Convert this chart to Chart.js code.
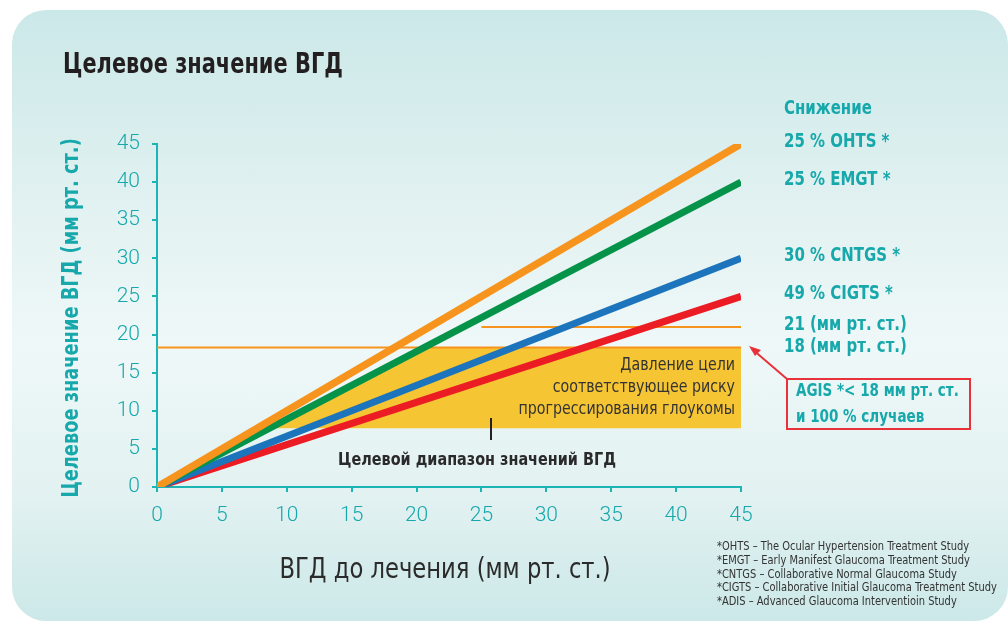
<!DOCTYPE html>
<html>
<head>
<meta charset="utf-8">
<script src="https://cdn.jsdelivr.net/npm/chart.js@4.4.1/dist/chart.umd.min.js"></script>
<style>
  html, body { margin: 0; padding: 0; background: #ffffff; }
  #wrap { position: relative; width: 1008px; height: 621px; overflow: hidden; }
  #card {
    position: absolute; left: 12px; top: 10px; width: 996px; height: 611px;
    border-radius: 34px;
    background: linear-gradient(to bottom, #cbe8e8 0%, #e4f2f2 35%, #eff8f8 55%, #e2f1f1 80%, #cce8e8 100%);
  }
  #chart { position: absolute; left: 0; top: 0; }
</style>
</head>
<body>
<div id="wrap">
  <div id="card"></div>
  <canvas id="chart" width="1008" height="621"></canvas>
</div>
<script>
    // ВГД до лечения (x) -> целевое ВГД (y)
    var preIop = [0, 45];
    var ohts = [0, 45];
    var emgt = [0, 40];
    var cntgs = [0, 30];
    var cigts = [0, 25];

    // горизонтальные уровни (мм рт. ст.)
    var level18 = 18.3;
    var level21 = 21;
    var level21From = 25;
    var bandLow = 7.7;

    var studyLabels = ['25 % OHTS *', '25 % EMGT *', '30 % CNTGS *', '49 % CIGTS *'];
    var levelLabels = ['21 (мм рт. ст.)', '18 (мм рт. ст.)'];
    var boxText = ['Давление цели', 'соответствующее риску', 'прогрессирования глоукомы'];
    var agisText = ['AGIS *< 18 мм рт. ст.', 'и 100 % случаев'];
    var footnotes = [
        '*OHTS – The Ocular Hypertension Treatment Study',
        '*EMGT – Early Manifest Glaucoma Treatment Study',
        '*CNTGS – Collaborative Normal Glaucoma Study',
        '*CIGTS – Collaborative Initial Glaucoma Treatment Study',
        '*ADIS – Advanced Glaucoma Interventioin Study'
    ];

    var COND = "'DejaVu Sans Condensed', 'DejaVu Sans', sans-serif";
    var TEAL = '#17a8ab';
    var AXIS = '#1db4b4';

    function pts(ys) {
        return preIop.map(function(x, i) { return { x: x, y: ys[i] }; });
    }

    // жёлтая зона: справа от линии EMGT, между bandLow и level18
    var emgtSlope = emgt[1] / preIop[1];
    var bandPts = [
        { x: bandLow / emgtSlope, y: bandLow },
        { x: level18 / emgtSlope, y: level18 },
        { x: preIop[1], y: level18 }
    ];

    // узкий текст: шрифт сжимается по горизонтали
    function txt(ctx, s, x, y, font, color, align, sx, rot) {
        ctx.save();
        ctx.translate(x, y);
        if (rot) ctx.rotate(rot);
        ctx.scale(sx, 1);
        ctx.font = font;
        ctx.fillStyle = color;
        ctx.textAlign = align;
        ctx.textBaseline = 'middle';
        ctx.fillText(s, 0, 0);
        ctx.restore();
    }

    var annotations = {
        id: 'annotations',
        afterDraw: function(chart) {
            var ctx = chart.ctx;
            var ys = chart.scales.y;
            var area = chart.chartArea;

            // заголовки
            txt(ctx, 'Целевое значение ВГД', 63, 66, 'bold 28px ' + COND, '#231f20', 'left', 0.83);
            txt(ctx, 'ВГД до лечения (мм рт. ст.)', (area.left + area.right) / 2 - 4, 571,
                '28px ' + COND, '#2b2b2b', 'center', 0.9);
            txt(ctx, 'Целевое значение ВГД (мм рт. ст.)', 72, 318,
                'bold 23px ' + COND, TEAL, 'center', 0.86, -Math.PI / 2);

            // подписи справа
            var f19 = 'bold 19px ' + COND;
            txt(ctx, 'Снижение', 784, 109, f19, TEAL, 'left', 0.875);
            var ends = [ohts[1], emgt[1], cntgs[1], cigts[1]];
            studyLabels.forEach(function(t, i) {
                txt(ctx, t, 784, ys.getPixelForValue(ends[i]) - 2, f19, TEAL, 'left', 0.875);
            });
            txt(ctx, levelLabels[0], 784, ys.getPixelForValue(level21) - 2, f19, TEAL, 'left', 0.875);
            txt(ctx, levelLabels[1], 784, ys.getPixelForValue(level18), f19, TEAL, 'left', 0.875);

            // текст в жёлтой зоне
            boxText.forEach(function(t, i) {
                txt(ctx, t, 735, 366 + i * 22, '17px ' + COND, '#333333', 'right', 0.93);
            });

            // целевой диапазон
            ctx.save();
            ctx.strokeStyle = '#222222';
            ctx.lineWidth = 2;
            ctx.beginPath();
            ctx.moveTo(491, 418);
            ctx.lineTo(491, 440);
            ctx.stroke();
            ctx.restore();
            txt(ctx, 'Целевой диапазон значений ВГД', 477, 460, 'bold 18px ' + COND, '#2a2a2a', 'center', 0.89);

            // AGIS
            ctx.save();
            ctx.strokeStyle = '#e8313a';
            ctx.lineWidth = 2;
            ctx.strokeRect(787, 379, 183, 50);
            ctx.beginPath();
            ctx.moveTo(787, 379);
            ctx.lineTo(752, 349);
            ctx.stroke();
            ctx.fillStyle = '#e8313a';
            ctx.beginPath();
            ctx.moveTo(749, 346);
            ctx.lineTo(761, 350);
            ctx.lineTo(755, 356);
            ctx.closePath();
            ctx.fill();
            ctx.restore();
            txt(ctx, agisText[0], 796, 391, 'bold 18px ' + COND, TEAL, 'left', 0.835);
            txt(ctx, agisText[1], 796, 417, 'bold 18px ' + COND, TEAL, 'left', 0.835);

            // сноски
            footnotes.forEach(function(t, i) {
                txt(ctx, t, 717, 547 + i * 13.7, '12.5px ' + COND, '#333333', 'left', 0.88);
            });
        }
    };

    var lineDs = function(label, data, color, width) {
        return {
            label: label,
            data: data,
            showLine: true,
            borderColor: color,
            backgroundColor: color,
            borderWidth: width,
            pointRadius: 0,
            fill: false
        };
    };

    var band = lineDs('Зона', bandPts, 'rgba(0,0,0,0)', 0);
    band.backgroundColor = '#f5c533';
    band.fill = { value: bandLow };

    new Chart(document.getElementById('chart'), {
        type: 'scatter',
        data: {
            datasets: [
                lineDs('OHTS', pts(ohts), '#f7941d', 7.5),
                lineDs('EMGT', pts(emgt), '#05934a', 7),
                lineDs('CNTGS', pts(cntgs), '#1c75bc', 7),
                lineDs('CIGTS', pts(cigts), '#ec1c24', 7),
                lineDs('18', [{ x: preIop[0], y: level18 }, { x: preIop[1], y: level18 }], '#f7941d', 2),
                lineDs('21', [{ x: level21From, y: level21 }, { x: preIop[1], y: level21 }], '#f7941d', 2),
                band
            ]
        },
        options: {
            responsive: false,
            animation: false,
            devicePixelRatio: 1,
            layout: {
                padding: { left: 63, right: 267, top: 144, bottom: 34 }
            },
            plugins: {
                legend: { display: false },
                tooltip: { enabled: false },
                title: { display: false }
            },
            scales: {
                x: {
                    type: 'linear',
                    min: 0,
                    max: 45,
                    ticks: {
                        stepSize: 5,
                        color: TEAL,
                        padding: 11,
                        font: { family: 'Roboto, sans-serif', size: 21, weight: 300 }
                    },
                    grid: { drawOnChartArea: false, color: AXIS, tickLength: 5, lineWidth: 2 },
                    border: { color: AXIS, width: 2 },
                    afterFit: function(scale) { scale.height = 100; }
                },
                y: {
                    type: 'linear',
                    min: 0,
                    max: 45,
                    ticks: {
                        stepSize: 5,
                        color: TEAL,
                        padding: 12,
                        font: { family: 'Roboto, sans-serif', size: 21, weight: 300 }
                    },
                    grid: { drawOnChartArea: false, color: AXIS, tickLength: 5, lineWidth: 2 },
                    border: { color: AXIS, width: 2 },
                    afterFit: function(scale) { scale.width = 94; }
                }
            }
        },
        plugins: [annotations]
    });
</script>
</body>
</html>
